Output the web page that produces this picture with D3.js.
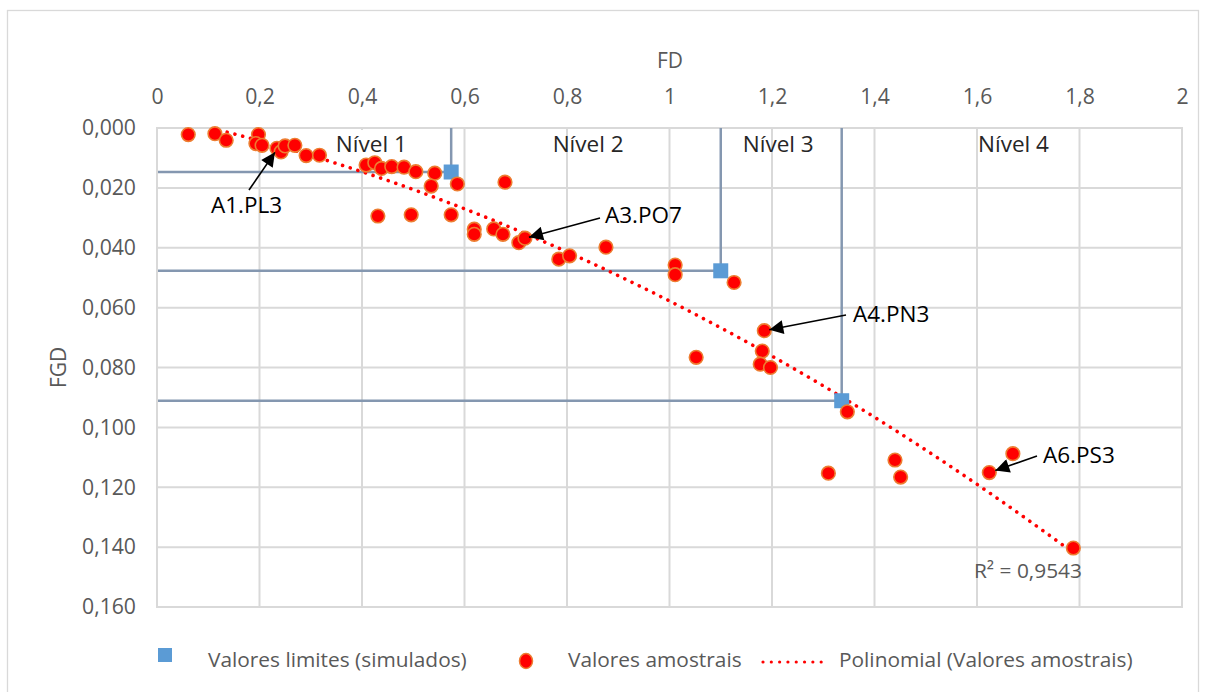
<!DOCTYPE html>
<html><head><meta charset="utf-8">
<script src="https://cdn.jsdelivr.net/npm/d3@7"></script>
<style>body{margin:0;background:#fff;} svg{display:block;font-family:"Open Sans",sans-serif;}</style>
</head><body><svg id="c" width="1207" height="692"></svg>
<script>
// sample values (FD, FGD)
const sampleFD  = [0.061,0.113,0.135,0.198,0.193,0.205,0.234,0.242,0.250,0.269,0.291,0.317,
  0.408,0.425,0.438,0.458,0.482,0.505,0.542,0.535,0.586,0.431,0.496,0.574,0.679,
  0.619,0.619,0.657,0.675,0.706,0.718,0.784,0.805,0.876,1.011,1.011,1.126,
  1.185,1.052,1.181,1.177,1.197,1.347,1.310,1.440,1.451,1.670,1.624,1.788];
const sampleFGD = [0.0022,0.0019,0.0041,0.0022,0.0052,0.0058,0.0068,0.0080,0.0060,0.0058,0.0092,0.0091,
  0.0124,0.0116,0.0135,0.0129,0.0131,0.0146,0.0151,0.0194,0.0187,0.0294,0.0290,0.0290,0.0181,
  0.0338,0.0355,0.0337,0.0355,0.0383,0.0368,0.0438,0.0427,0.0398,0.0458,0.0490,0.0516,
  0.0677,0.0766,0.0745,0.0789,0.0800,0.0948,0.1153,0.1109,0.1166,0.1088,0.1151,0.1403];
// simulated limit values
const limitFD  = [0.574, 1.100, 1.336];
const limitFGD = [0.0147, 0.0477, 0.0911];
const levelLabels = ["Nível 1","Nível 2","Nível 3","Nível 4"];
const levelLabelFD = [0.349, 0.772, 1.143, 1.602];
const xTicks = [0,0.2,0.4,0.6,0.8,1,1.2,1.4,1.6,1.8,2];
const yTicks = [0,0.02,0.04,0.06,0.08,0.1,0.12,0.14,0.16];
const annotations = [
  {label:"A1.PL3", fd:0.234, fgd:0.0068},
  {label:"A3.PO7", fd:0.718, fgd:0.0368},
  {label:"A4.PN3", fd:1.185, fgd:0.0677},
  {label:"A6.PS3", fd:1.624, fgd:0.1151}
];
const r2Text = "R² = 0,9543";
const legendLabels = ["Valores limites (simulados)","Valores amostrais","Polinomial (Valores amostrais)"];

const svg = d3.select("#c");
const x = d3.scaleLinear().domain([0,2]).range([157,1182]);
const y = d3.scaleLinear().domain([0,0.16]).range([128,607]);
const fmtX = d => d3.format(".1f")(d).replace(/\.0$/,"").replace(".",",");
const fmtY = d => d3.format(".3f")(d).replace(".",",");

// measure helper: font size so that a sample string gets a target width
const probe = svg.append("text").attr("x",-1000).attr("y",-1000).style("font-size","100px");
function sizeFor(str, width){ probe.text(str); return 100*width/probe.node().getComputedTextLength(); }
const fsTick = sizeFor("0,000", 54);
const fsTitle = sizeFor("FD", 26);
const fsLevel = sizeFor("Nível 1", 71);
const fsAnn = sizeFor("A3.PO7", 77);
const fsR2 = sizeFor(r2Text, 108);
const fsLeg = sizeFor(legendLabels[0], 259);
probe.remove();

// outer frame
svg.append("rect").attr("x",7.5).attr("y",10.5).attr("width",1191).attr("height",700)
  .attr("fill","#fff").attr("stroke","#d9d9d9").attr("stroke-width",1.3);

// clip
svg.append("defs").append("clipPath").attr("id","pc").append("rect")
  .attr("x",x(0)).attr("y",y(0)).attr("width",x(2)-x(0)).attr("height",y(0.16)-y(0));

// gridlines
const grid = svg.append("g").attr("stroke","#d9d9d9").attr("stroke-width",2);
grid.selectAll(".vx").data(xTicks).join("line").attr("x1",d=>x(d)).attr("x2",d=>x(d)).attr("y1",y(0)).attr("y2",y(0.16));
grid.selectAll(".hy").data(yTicks).join("line").attr("x1",x(0)).attr("x2",x(2)).attr("y1",d=>y(d)).attr("y2",d=>y(d));

// axes labels via d3 axes
const xAxis = svg.append("g").attr("transform",`translate(0,${y(0)})`)
  .call(d3.axisTop(x).tickValues(xTicks).tickFormat(fmtX).tickSize(0).tickPadding(24));
const yAxis = svg.append("g").attr("transform",`translate(${x(0)},0)`)
  .call(d3.axisLeft(y).tickValues(yTicks).tickFormat(fmtY).tickSize(0).tickPadding(21));
[xAxis,yAxis].forEach(a=>{a.select(".domain").remove();
  a.selectAll("text").attr("fill","#595959").style("font-size",fsTick+"px").style("font-family","Open Sans");});

// axis titles
svg.append("text").attr("x",670).attr("y",68).attr("text-anchor","middle").attr("fill","#595959")
  .style("font-size",fsTitle+"px").text("FD");
svg.append("text").attr("transform",`translate(66,${y(0.08)}) rotate(-90)`).attr("text-anchor","middle")
  .attr("fill","#595959").style("font-size",fsTitle+"px").text("FGD");

// white box behind first level label
svg.append("rect").attr("x",313).attr("y",130).attr("width",117).attr("height",30).attr("fill","#fff");

// level labels
svg.selectAll(".lvl").data(levelLabels).join("text").attr("x",(d,i)=>x(levelLabelFD[i])).attr("y",152)
  .attr("fill","#262626").style("font-size",fsLevel+"px").text(d=>d);

// limit lines
const lim = svg.append("g").attr("stroke","#8497b0").attr("stroke-width",2.5);
limitFD.forEach((fd,i)=>{
  lim.append("line").attr("x1",x(0)).attr("x2",x(fd)).attr("y1",y(limitFGD[i])).attr("y2",y(limitFGD[i]));
});

// trendline: least-squares quadratic
function polyfit2(xs, ys){
  let n=xs.length, S=[0,0,0,0,0], T=[0,0,0];
  for(let i=0;i<n;i++){let p=1;for(let k=0;k<5;k++){S[k]+=p; if(k<3) T[k]+=ys[i]*p; p*=xs[i];}}
  const A=[[S[0],S[1],S[2],T[0]],[S[1],S[2],S[3],T[1]],[S[2],S[3],S[4],T[2]]];
  for(let i=0;i<3;i++){for(let j=i+1;j<3;j++){const f=A[j][i]/A[i][i];for(let k=i;k<4;k++)A[j][k]-=f*A[i][k];}}
  const c=[0,0,0];
  for(let i=2;i>=0;i--){let s=A[i][3];for(let k=i+1;k<3;k++)s-=A[i][k]*c[k];c[i]=s/A[i][i];}
  return c;
}
const coef = polyfit2(sampleFD, sampleFGD);
const x0 = d3.min(sampleFD), x1 = d3.max(sampleFD);
const trend = d3.range(0,201).map(i=>{const t=x0+(x1-x0)*i/200;return [t, coef[0]+coef[1]*t+coef[2]*t*t];});
svg.append("path").attr("clip-path","url(#pc)").datum(trend)
  .attr("d",d3.line().x(d=>x(d[0])).y(d=>y(d[1])))
  .attr("fill","none").attr("stroke","#ff0000").attr("stroke-width",3.6)
  .attr("stroke-dasharray","0.01 8").attr("stroke-linecap","round");

// plot border
svg.append("rect").attr("x",x(0)).attr("y",y(0)).attr("width",x(2)-x(0)).attr("height",y(0.16)-y(0))
  .attr("fill","none").attr("stroke","#d9d9d9").attr("stroke-width",2);
// vertical limit lines on top of border
limitFD.forEach((fd,i)=>{
  svg.append("line").attr("x1",x(fd)).attr("x2",x(fd)).attr("y1",y(0)).attr("y2",y(limitFGD[i]))
    .attr("stroke","#8497b0").attr("stroke-width",2.5);
});

// limit markers
svg.selectAll(".lm").data(limitFD).join("rect")
  .attr("x",(d)=>x(d)-7.5).attr("y",(d,i)=>y(limitFGD[i])-7.5).attr("width",15).attr("height",15)
  .attr("fill","#5b9bd5");

// sample points
svg.selectAll(".pt").data(sampleFD).join("circle")
  .attr("cx",d=>x(d)).attr("cy",(d,i)=>y(sampleFGD[i])).attr("r",6.8)
  .attr("fill","#ff0000").attr("stroke","#ed7d31").attr("stroke-width",1.6);

// annotations
svg.append("defs").append("marker").attr("id","ah").attr("viewBox","0 0 10 10").attr("refX",10).attr("refY",5)
  .attr("markerWidth",16).attr("markerHeight",14).attr("markerUnits","userSpaceOnUse").attr("orient","auto")
  .append("path").attr("d","M0,0 L10,5 L0,10 z").attr("fill","#000");
const annLayout = [
  {tx:211, ty:213, ax:249, ay:190, dx:-2, dy:4},
  {tx:605, ty:223, ax:600, ay:218, dx:4, dy:-1},
  {tx:853, ty:322, ax:846, ay:315, dx:5, dy:-1},
  {tx:1043, ty:463, ax:1037, ay:456, dx:6, dy:-2}
];
annotations.forEach((a,i)=>{
  const L=annLayout[i];
  const px=x(a.fd), py=y(a.fgd);
  svg.append("line").attr("x1",L.ax).attr("y1",L.ay).attr("x2",px+L.dx).attr("y2",py+L.dy)
    .attr("stroke","#000").attr("stroke-width",1.6).attr("marker-end","url(#ah)");
  svg.append("text").attr("x",L.tx).attr("y",L.ty).attr("fill","#000").style("font-size",fsAnn+"px").text(a.label);
});

// R²
svg.append("text").attr("x",974).attr("y",578).attr("fill","#595959").style("font-size",fsR2+"px").text(r2Text);

// legend
const lg = svg.append("g");
lg.append("rect").attr("x",158).attr("y",648).attr("width",14).attr("height",14).attr("fill","#5b9bd5");
lg.append("text").attr("x",208).attr("y",667).attr("fill","#595959").style("font-size",fsLeg+"px").text(legendLabels[0]);
lg.append("ellipse").attr("cx",526).attr("cy",661).attr("rx",6.5).attr("ry",7.5)
  .attr("fill","#ff0000").attr("stroke","#ed7d31").attr("stroke-width",1.5);
lg.append("text").attr("x",568).attr("y",667).attr("fill","#595959").style("font-size",fsLeg+"px").text(legendLabels[1]);
lg.append("line").attr("x1",763).attr("x2",829).attr("y1",662).attr("y2",662)
  .attr("stroke","#ff0000").attr("stroke-width",3.2).attr("stroke-dasharray","0.01 8.3").attr("stroke-linecap","round");
lg.append("text").attr("x",839).attr("y",667).attr("fill","#595959").style("font-size",fsLeg+"px").text(legendLabels[2]);
</script></body></html>
